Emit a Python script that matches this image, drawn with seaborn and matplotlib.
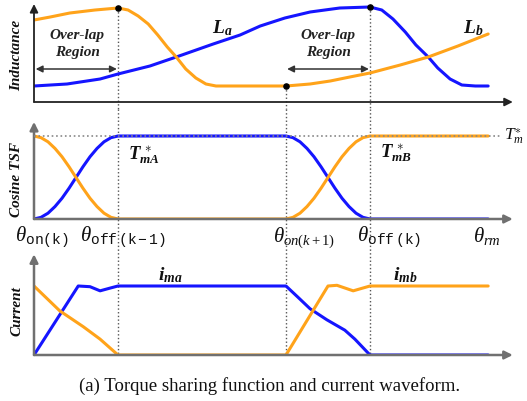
import matplotlib
matplotlib.use("Agg")
import matplotlib.pyplot as plt
import seaborn as sns

sns.set_theme(style="white")
plt.rcParams["font.family"] = ["Liberation Serif", "DejaVu Serif"]
plt.rcParams["mathtext.fontset"] = "custom"
plt.rcParams["mathtext.rm"] = "Liberation Serif"
plt.rcParams["mathtext.it"] = "Liberation Serif:italic"
plt.rcParams["mathtext.bf"] = "Liberation Serif:bold"
plt.rcParams["mathtext.bfit"] = "Liberation Serif:italic:bold"
plt.rcParams["mathtext.tt"] = "Liberation Mono"

BLUE = "#1515ff"
ORANGE = "#ffa31a"

# ---------------- data ----------------
# key rotor angles (on(k), off(k-1), on(k+1), off(k), end)
theta_keys = [0, 15, 45, 60, 81.1]
theta_labels = [r"$\theta_{\mathtt{on(k)}}$", r"$\theta_{\mathtt{off\,(k-1)}}$",
                r"$\theta_{on(k+1)}$", r"$\theta_{\mathtt{off\,(k)}}$", r"$\theta_{rm}$"]
theta_label_x = [-3.4, 8.2, 42.7, 57.7, 78.4]

# inductance profiles
La_x = [0, 5.9, 11.8, 15, 20.7, 25.4, 32, 36.8, 40.4, 44.8, 49.3, 54.6, 60,
        62.1, 64.1, 66.3, 68.2, 70.4, 72.1, 74.3, 76.4, 78.8, 81.1]
La_y = [1.6, 1.8, 2.3, 2.8, 3.6, 4.5, 5.8, 6.7, 7.6, 8.4, 9.0, 9.4, 9.5,
        9.2, 8.3, 7.0, 5.7, 4.5, 3.4, 2.3, 1.7, 1.6, 1.6]
Lb_x = [0, 2.9, 6.4, 10.9, 15, 16.8, 18.6, 20.4, 22.1, 23.8, 25.4, 27.1, 28.9,
        30.7, 32.5, 45, 49.3, 52.9, 56.4, 60, 65.4, 70.4, 75.7, 81.1]
Lb_y = [8.2, 8.5, 8.9, 9.2, 9.4, 9.2, 8.6, 7.8, 6.7, 5.5, 4.5, 3.3, 2.4,
        1.8, 1.6, 1.6, 1.8, 2.1, 2.5, 2.9, 3.7, 4.5, 5.6, 6.8]
dot_x = [15, 60, 45]
dot_y = [9.4, 9.5, 1.6]

# cosine torque sharing functions
tsf_x = [0, 1.25, 2.5, 3.75, 5, 6.25, 7.5, 8.75, 10, 11.25, 12.5, 13.75, 15,
         45, 46.25, 47.5, 48.75, 50, 51.25, 52.5, 53.75, 55, 56.25, 57.5, 58.75, 60, 81.1]
tsf_a = [0, 0.02, 0.07, 0.15, 0.25, 0.37, 0.5, 0.63, 0.75, 0.85, 0.93, 0.98, 1,
         1, 0.98, 0.93, 0.85, 0.75, 0.63, 0.5, 0.37, 0.25, 0.15, 0.07, 0.02, 0, 0]
tsf_b = [1, 0.98, 0.93, 0.85, 0.75, 0.63, 0.5, 0.37, 0.25, 0.15, 0.07, 0.02, 0,
         0, 0.02, 0.07, 0.15, 0.25, 0.37, 0.5, 0.63, 0.75, 0.85, 0.93, 0.98, 1, 1]
tm_ref = 1.0

# phase currents
ia_x = [0, 7.9, 10, 11.8, 13.6, 15, 45, 47.1, 49.3, 52.3, 55.5, 57.3, 60, 81.1]
ia_y = [0, 1.0, 0.99, 0.93, 0.97, 1.0, 1.0, 0.84, 0.67, 0.51, 0.36, 0.23, 0, 0]
ib_x = [0, 4.6, 8.8, 11.8, 15, 45, 52.5, 54.1, 57, 60, 81.1]
ib_y = [1.0, 0.64, 0.41, 0.23, 0, 0, 1.0, 1.01, 0.93, 1.0, 1.0]

# ---------------- layout ----------------
W, H = 527, 402
fig = plt.figure(figsize=(W / 100, H / 100), dpi=100)
XMAX = 486 / 5.6


def make_ax(top_px, base_px, ymax):
    ax = fig.add_axes([34 / W, (H - base_px) / H, 486 / W, (base_px - top_px) / H])
    ax.set_xlim(0, XMAX)
    ax.set_ylim(0, ymax)
    ax.axis("off")
    return ax


ax1 = make_ax(0, 103, 10.3)
ax2 = make_ax(110, 220, 110 / 83)
ax3 = make_ax(250, 356, 106 / 69)


def axis_arrows(ax, ytip, color, lw):
    ap = dict(arrowstyle="-|>", color=color, lw=lw, mutation_scale=12, shrinkA=0, shrinkB=0)
    ax.annotate("", xy=(0, ytip), xytext=(0, 0), arrowprops=ap, annotation_clip=False)
    ax.annotate("", xy=(85.5, 0), xytext=(0, 0), arrowprops=ap, annotation_clip=False)


# ---- vertical guides
GUIDE = dict(ls=":", color="#555555", lw=1, clip_on=False)
ax1.plot([theta_keys[1]] * 2, [dot_y[0], -0.7], **GUIDE)
ax1.plot([theta_keys[3]] * 2, [dot_y[1], -0.7], **GUIDE)
ax1.plot([theta_keys[2]] * 2, [dot_y[2], -0.7], **GUIDE)
for k in theta_keys[1:4]:
    ax2.plot([k, k], [110 / 83, -0.36], **GUIDE)
    ax3.plot([k, k], [106 / 69, 0], **GUIDE)

# ---- top: inductance
axis_arrows(ax1, 9.8, "#222222", 1.3)
sns.lineplot(x=La_x, y=La_y, ax=ax1, color=BLUE, lw=2.2, sort=False, estimator=None)
sns.lineplot(x=Lb_x, y=Lb_y, ax=ax1, color=ORANGE, lw=2.2, sort=False, estimator=None)
ax1.scatter(dot_x, dot_y, s=14, color="black", zorder=5, clip_on=False)

ap2 = dict(arrowstyle="<|-|>", color="#333333", lw=1.1, mutation_scale=10, shrinkA=0, shrinkB=0)
ax1.annotate("", xy=(0.3, 3.3), xytext=(14.8, 3.3), arrowprops=ap2)
ax1.annotate("", xy=(45.2, 3.3), xytext=(59.8, 3.3), arrowprops=ap2)
for cx in [7.7, 52.5]:
    ax1.text(cx, 5.9, "Over-lap\nRegion", ha="center", va="center", fontsize=11,
             fontstyle="italic", fontweight="bold", linespacing=1.4, color="#222222")
ax1.text(31.8, 7.0, r"$\mathbfit{L}_{\mathbfit{a}}$", fontsize=14, va="baseline", color="#111111")
ax1.text(76.6, 7.0, r"$\mathbfit{L}_{\mathbfit{b}}$", fontsize=14, va="baseline", color="#111111")

# ---- middle: TSF
axis_arrows(ax2, 1.17, "#707070", 1.8)
sns.lineplot(x=tsf_x, y=tsf_a, ax=ax2, color=BLUE, lw=2.2, sort=False, estimator=None)
sns.lineplot(x=tsf_x, y=tsf_b, ax=ax2, color=ORANGE, lw=2.2, sort=False, estimator=None)
ax2.plot([0, 83.6], [tm_ref, tm_ref], ls=":", color="#888888", lw=1.2, zorder=6)
ax2.text(84.0, tm_ref, r"$T_m^{\ast}$", fontsize=12.5, va="center", ha="left",
         clip_on=False, color="#111111")
ax2.text(16.8, 0.72, r"$\mathbfit{T}_{\mathbfit{mA}}^{\ \ast}$", fontsize=13.5, va="baseline", color="#111111")
ax2.text(61.8, 0.74, r"$\mathbfit{T}_{\mathbfit{mB}}^{\ \ast}$", fontsize=13.5, va="baseline", color="#111111")
for lx, lab in zip(theta_label_x, theta_labels):
    ax2.text(lx, -0.265, lab, fontsize=15, va="baseline", ha="left", clip_on=False, color="#111111")

# ---- bottom: current
axis_arrows(ax3, 1.46, "#707070", 1.8)
sns.lineplot(x=ia_x, y=ia_y, ax=ax3, color=BLUE, lw=2.2, sort=False, estimator=None)
sns.lineplot(x=ib_x, y=ib_y, ax=ax3, color=ORANGE, lw=2.2, sort=False, estimator=None)
ax3.text(22.1, 1.10, r"$\mathbfit{i}_{\mathbfit{ma}}$", fontsize=14, va="baseline", color="#111111")
ax3.text(64.1, 1.10, r"$\mathbfit{i}_{\mathbfit{mb}}$", fontsize=14, va="baseline", color="#111111")

# y labels
for py, lab in [(55, "Inductance"), (180, "Cosine TSF"), (311, "Current")]:
    fig.text(17 / W, 1 - py / H, lab, rotation=90, ha="center", va="center",
             fontsize=11, fontstyle="italic", fontweight="bold", color="#111111")

fig.text(270 / W, 1 - 386 / H, "(a) Torque sharing function and current waveform.",
         ha="center", va="center", fontsize=13.5, color="#111111")

fig.savefig("out.png", dpi=100)
